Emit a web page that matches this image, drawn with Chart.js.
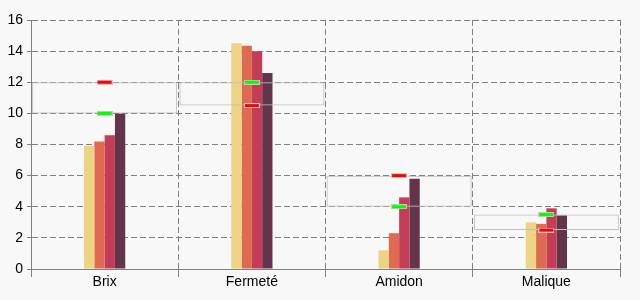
<!DOCTYPE html>
<html>
<head>
<meta charset="utf-8">
<script src="https://cdn.jsdelivr.net/npm/chart.js@4/dist/chart.umd.min.js"></script>
<style>
  html, body { margin: 0; padding: 0; background: #f8f8f8; }
  #wrap { width: 640px; height: 300px; }
</style>
</head>
<body>
<div id="wrap"><canvas id="chart" width="640" height="300"></canvas></div>
<script>
// === DATA ===
const categories = ["Brix", "Fermeté", "Amidon", "Malique"];
const serie1 = [7.9, 14.5, 1.2, 3.0];
const serie2 = [8.2, 14.35, 2.3, 2.9];
const serie3 = [8.6, 14.0, 4.6, 3.9];
const serie4 = [10.0, 12.6, 5.8, 3.45];
const rangeMin = [10, 10.5, 4, 2.5];
const rangeMax = [12, 12, 6, 3.5];
const greenMarks = [10, 12, 4, 3.5];
const redMarks = [12, 10.5, 6, 2.5];
const yTicks = [0, 2, 4, 6, 8, 10, 12, 14, 16];

const barColors = ["#edd384", "#de6a52", "#c43d56", "#63354a"];
const gridColor = "#808080";

function makeMarker(color) {
  const c = document.createElement("canvas");
  c.width = 16;
  c.height = 5;
  const ctx = c.getContext("2d");
  ctx.fillStyle = "#c8c8c8";
  ctx.fillRect(0, 0, 16, 5);
  ctx.fillStyle = color;
  ctx.fillRect(1, 1, 14, 3);
  return c;
}

const barSeries = [serie1, serie2, serie3, serie4].map((values, i) => ({
  type: "bar",
  data: values,
  backgroundColor: barColors[i],
  borderWidth: 0,
  barPercentage: 1,
  categoryPercentage: 0.28,
  order: 3
}));

const boxes = {
  type: "bar",
  data: rangeMin.map((v, i) => [v, rangeMax[i]]),
  backgroundColor: "rgba(0,0,0,0)",
  borderColor: "#c0c0c0",
  borderWidth: 1,
  borderSkipped: false,
  grouped: false,
  barPercentage: 1,
  categoryPercentage: 0.985,
  order: 2
};

const markerSet = (values, color) => ({
  type: "line",
  data: values,
  showLine: false,
  pointStyle: makeMarker(color),
  pointRadius: 8,
  order: 1
});

// === CHART ===
new Chart(document.getElementById("chart"), {
  data: {
    labels: categories,
    datasets: [...barSeries, boxes, markerSet(greenMarks, "#00ff00"), markerSet(redMarks, "#ff0000")]
  },
  options: {
    responsive: false,
    animation: false,
    layout: { padding: { top: 20, right: 20, left: 0, bottom: 0 } },
    plugins: {
      legend: { display: false },
      tooltip: { enabled: false }
    },
    scales: {
      x: {
        type: "category",
        offset: true,
        grid: { offset: true, color: gridColor, lineWidth: 1, tickLength: 8 },
        border: { display: true, color: gridColor, width: 1, dash: [6, 3] },
        ticks: { color: "#000", font: { family: "Liberation Sans", size: 14 }, padding: -3 },
        afterFit: axis => { axis.height = 31; }
      },
      y: {
        min: 0,
        max: 16,
        afterBuildTicks: axis => { axis.ticks = yTicks.map(v => ({ value: v })); },
        grid: { color: gridColor, lineWidth: 1, tickLength: 4 },
        border: { display: true, color: gridColor, width: 1, dash: [6, 3] },
        ticks: { color: "#000", font: { family: "Liberation Sans", size: 14 }, padding: 4 },
        afterFit: axis => { axis.width = 31; }
      }
    }
  }
});
</script>
</body>
</html>
